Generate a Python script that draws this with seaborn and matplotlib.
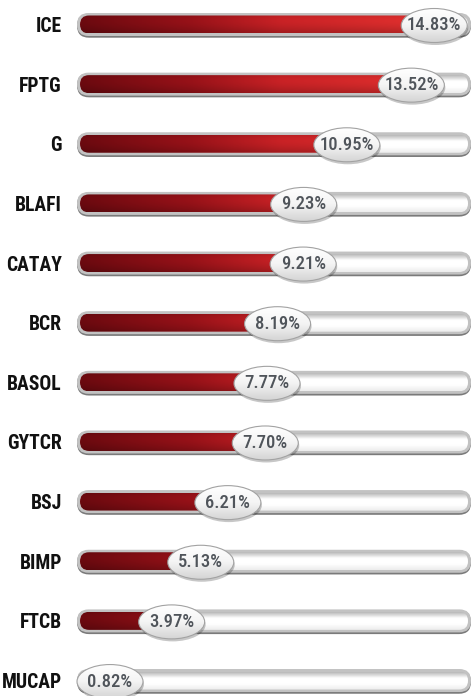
import numpy as np
import matplotlib.pyplot as plt
import seaborn as sns
from matplotlib import font_manager
from matplotlib.patches import FancyBboxPatch, Ellipse
from matplotlib.colors import LinearSegmentedColormap

# -------------------------
# Data
# -------------------------
tickers = ['ICE', 'FPTG', 'G', 'BLAFI', 'CATAY', 'BCR',
           'BASOL', 'GYTCR', 'BSJ', 'BIMP', 'FTCB', 'MUCAP']
shares = [14.83, 13.52, 10.95, 9.23, 9.21, 8.19,
          7.77, 7.70, 6.21, 5.13, 3.97, 0.82]
share_labels = [f"{v:.2f}%" for v in shares]

sns.set_style('white')

# pick the narrowest font that is installed
installed = {f.name for f in font_manager.fontManager.ttflist}
FONT = 'DejaVu Sans'
for cand in ['Roboto Condensed', 'Liberation Sans Narrow', 'Open Sans Condensed',
             'Noto Sans Condensed', 'Roboto', 'Lato']:
    if cand in installed:
        FONT = cand
        break
plt.rcParams['font.family'] = [FONT, 'DejaVu Sans']

# -------------------------
# Geometry (pixels)
# -------------------------
W, H, DPI = 474, 696, 100
X0_PX = 72          # pixel where value 0 sits
PX_X = 25.1         # pixels per percentage point
PX_Y = 59.64        # pixels per row
ROW0_PX = 24.5
ASPECT = PX_X / PX_Y

TRACK_X0 = 5 / PX_X
TRACK_X1 = (471 - X0_PX) / PX_X
TRACK_H, INNER_H = 24, 18
ELL_W, ELL_H = 66, 34

fig = plt.figure(figsize=(W / DPI, H / DPI), dpi=DPI)
fig.patch.set_facecolor('white')
ax = fig.add_axes([X0_PX / W, 0, (W - X0_PX) / W, 1])

sns.barplot(x=shares, y=tickers, orient='h', ax=ax, color='#a3141a')

# read bar geometry from seaborn, then redraw as rounded pills
bars = [(p.get_y() + p.get_height() / 2, p.get_width()) for p in ax.patches]
for p in list(ax.patches):
    p.remove()


def pill(x0, x1, yc, h_px, **kw):
    h = h_px / PX_Y
    r = h_px / 2 / PX_X
    return FancyBboxPatch((x0, yc - h / 2), x1 - x0, h,
                          boxstyle=f"round,pad=0,rounding_size={r}",
                          mutation_aspect=ASPECT, transform=ax.transData, **kw)


def vgrad(stops, n=64):
    t = np.linspace(0, 1, n)
    cm = LinearSegmentedColormap.from_list('g', stops)
    return cm(t)[:, None, :3]


red_cmap = LinearSegmentedColormap.from_list(
    'red', [(0, '#700a10'), (0.28, '#9c1219'), (0.52, '#d02327'), (1, '#f03633')])
nx, ny = 400, 40
red_img = red_cmap(np.linspace(0, 1, nx))[None, :, :3].repeat(ny, axis=0)
t = np.linspace(0, 1, ny)[:, None, None]
shade = 1.0 - 0.22 * t ** 2 - 0.12 * (1 - t) ** 6
red_img = np.clip(red_img * shade, 0, 1)

inner_img = vgrad(['#b8b8b8', '#ffffff', '#ffffff', '#ececec'])
ell_img = vgrad(['#ffffff', '#f4f4f4', '#d4d4d4'])

in_x0 = TRACK_X0 + (TRACK_H - INNER_H) / 2 / PX_X
in_x1 = TRACK_X1 - (TRACK_H - INNER_H) / 2 / PX_X
ih = INNER_H / PX_Y
ew, eh = ELL_W / PX_X, ELL_H / PX_Y

val_texts = []
for (yc, val), lab in zip(bars, share_labels):
    # track: dark bottom rim + light rim + white inside
    ax.add_patch(pill(TRACK_X0, TRACK_X1, yc + 1.2 / PX_Y, TRACK_H,
                      facecolor='#7a7a7a', edgecolor='none', zorder=2))
    ax.add_patch(pill(TRACK_X0, TRACK_X1, yc, TRACK_H - 1,
                      facecolor='#c2c2c2', edgecolor='none', zorder=3))
    inner = pill(in_x0, in_x1, yc, INNER_H)
    im = ax.imshow(inner_img, extent=[in_x0, in_x1, yc + ih / 2, yc - ih / 2],
                   aspect='auto', interpolation='bilinear', zorder=4)
    im.set_clip_path(inner)

    # red bar, gradient tied to the track position
    red = pill(in_x0, max(val, in_x0 + 0.8), yc, INNER_H)
    im = ax.imshow(red_img, extent=[in_x0, in_x1, yc + ih / 2, yc - ih / 2],
                   aspect='auto', interpolation='bilinear', zorder=5)
    im.set_clip_path(red)

    # value bubble, kept inside the track
    cx = min(max(val, TRACK_X0 + ew / 2), TRACK_X1 - ew / 2 - 0.15)
    cy = yc + 1 / PX_Y
    ax.add_patch(Ellipse((cx + 1 / PX_X, cy + 2.5 / PX_Y), ew, eh,
                         facecolor='#000000', alpha=0.22, edgecolor='none',
                         zorder=6))
    ell = Ellipse((cx, cy), ew, eh, transform=ax.transData)
    im = ax.imshow(ell_img, extent=[cx - ew / 2, cx + ew / 2, cy + eh / 2, cy - eh / 2],
                   aspect='auto', interpolation='bilinear', zorder=7)
    im.set_clip_path(ell)
    ax.add_patch(Ellipse((cx, cy), ew, eh, facecolor='none',
                         edgecolor='#a2a2a2', lw=0.8, zorder=8))
    val_texts.append(ax.text(cx, cy, lab, ha='center', va='center', fontsize=11,
                             fontweight='medium', color='#4f545a', zorder=9))

ax.set_xlim(0, (W - X0_PX) / PX_X)
ax.set_ylim((H - ROW0_PX) / PX_Y, -ROW0_PX / PX_Y)
ax.set_xticks([])
ax.set_xlabel('')
ax.set_ylabel('')
ax.tick_params(axis='y', length=0, pad=7.2)
for tl in ax.get_yticklabels():
    tl.set_fontsize(13)
    tl.set_fontweight('bold')
    tl.set_color('#111111')
sns.despine(ax=ax, left=True, bottom=True)
ax.patch.set_alpha(0)

# size text so the widest strings match the reference widths
fig.canvas.draw()
renderer = fig.canvas.get_renderer()
tls = ax.get_yticklabels()
wide = max(tls, key=lambda t: t.get_window_extent(renderer).width)
k = min(1.3, 60 / wide.get_window_extent(renderer).width)
for tl in tls:
    tl.set_fontsize(13 * k)
wide = max(val_texts, key=lambda t: t.get_window_extent(renderer).width)
k = min(1.4, 54 / wide.get_window_extent(renderer).width)
for tx in val_texts:
    tx.set_fontsize(11 * k)

fig.savefig('out.png', dpi=DPI)
